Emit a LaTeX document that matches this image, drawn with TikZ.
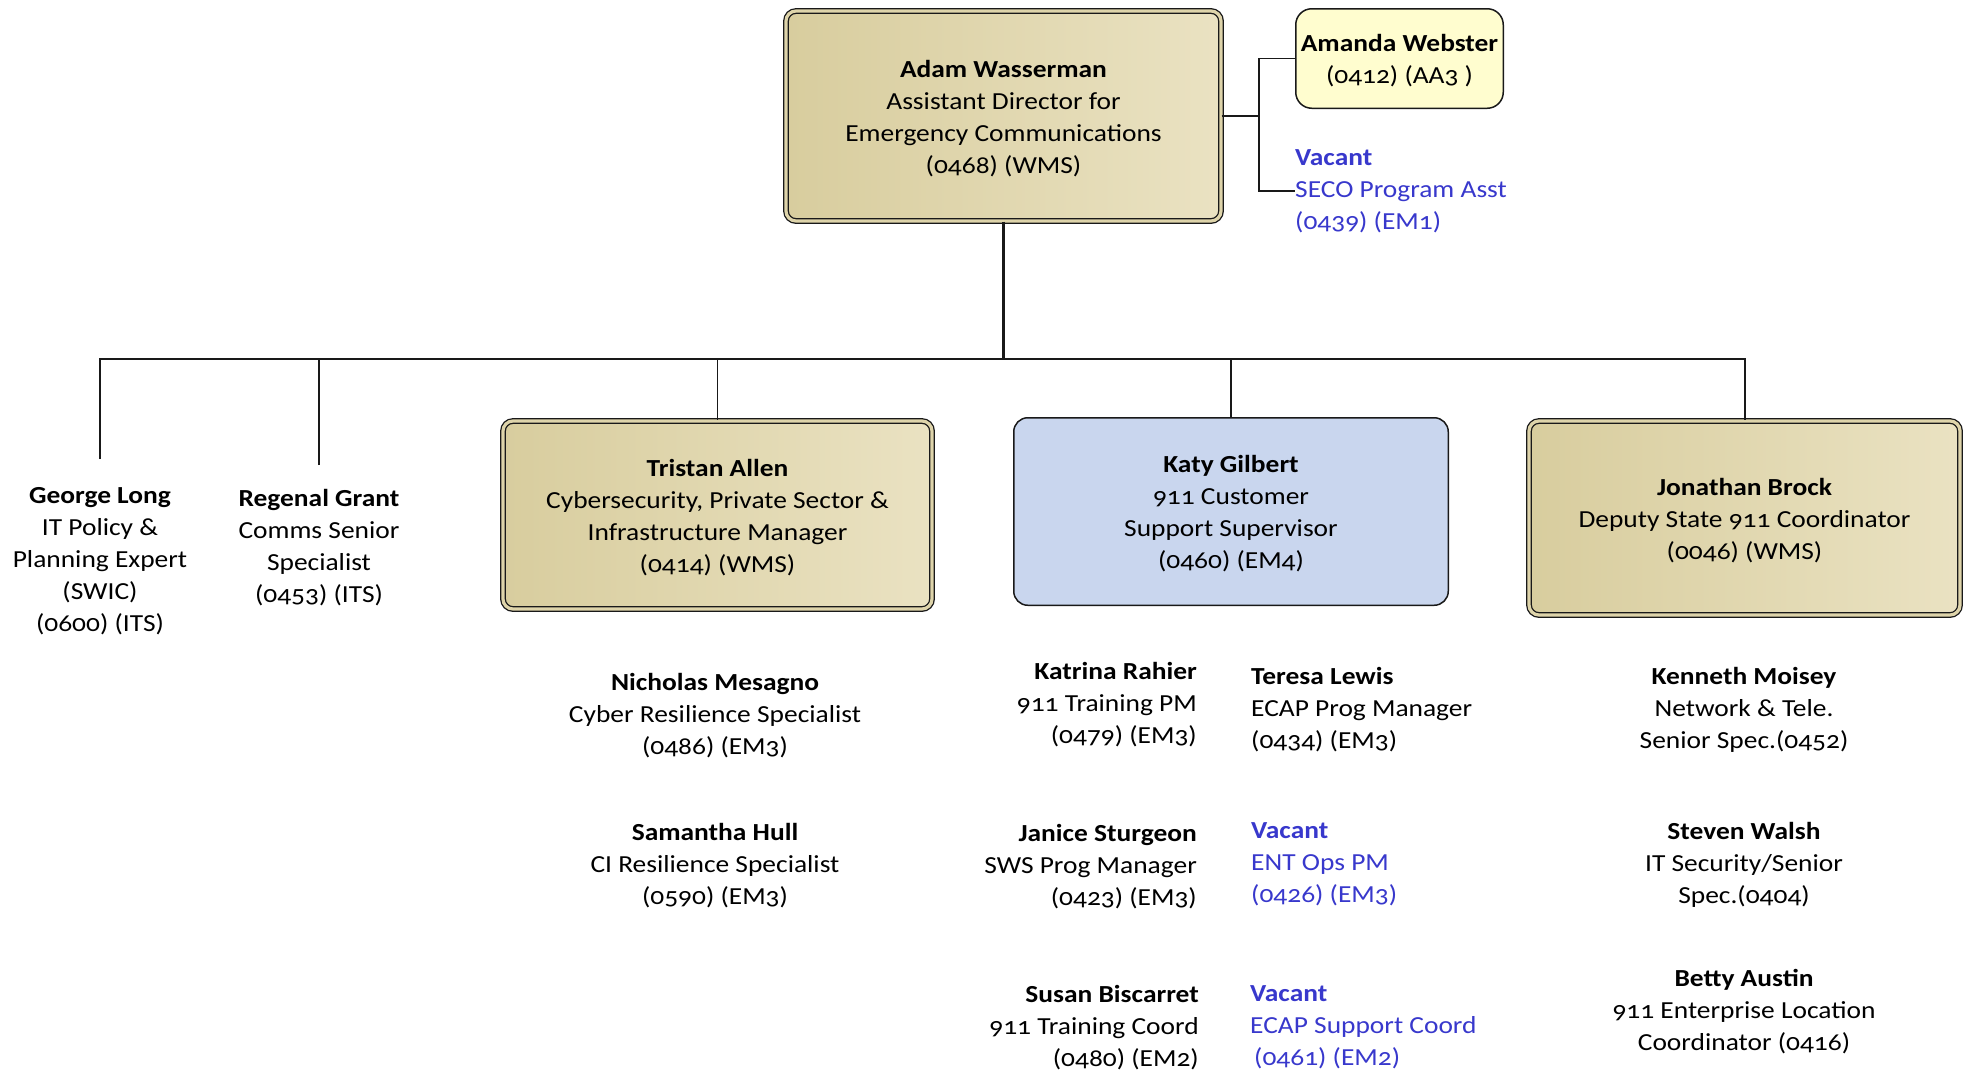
\documentclass[tikz,border=0pt]{standalone}
\usepackage{fontspec}
\setmainfont{Carlito}[Numbers=OldStyle, FakeStretch=1.12]
\newcommand\orgfs{\fontsize{24.5}{32}\selectfont}
\definecolor{lineC}{RGB}{25,25,25}
\definecolor{tanL}{RGB}{216,205,158}
\definecolor{tanR}{RGB}{234,226,194}
\definecolor{tanM}{RGB}{222,212,170}
\definecolor{blueF}{RGB}{201,214,238}
\definecolor{yelF}{RGB}{255,253,207}
\definecolor{vacC}{RGB}{56,56,204}
\begin{document}
\begin{tikzpicture}[x=1pt,y=-1pt,
  every node/.style={inner sep=0pt, font=\orgfs, text=black},
  tanbox/.style={draw=lineC, line width=1.3pt, double=tanM, double distance=3.2pt,
    rounded corners=10pt, left color=tanL, right color=tanR},
  bluebox/.style={draw=lineC, line width=1.5pt, rounded corners=14pt, fill=blueF},
  yelbox/.style={draw=lineC, line width=1.5pt, rounded corners=16pt, fill=yelF},
  boxtext/.style={align=center, yshift=-2.5pt},
  conn/.style={draw=lineC, line width=1.6pt},
  vac/.style={text=vacC, align=left, anchor=west}]
\useasboundingbox (0,0) rectangle (1970,1072);

% boxes
\node[tanbox, minimum width=435, minimum height=210] (adam) at (1003.5,116) {};
\node[boxtext] (adamt) at (adam.center)
  {\textbf{Adam Wasserman}\\Assistant Director for\\Emergency Communications\\(0468) (WMS)};
\node[yelbox, minimum width=207.5, minimum height=99.5] (amanda) at (1399.5,58.5) {};
\node[boxtext] (amandat) at (amanda.center) {\textbf{Amanda Webster}\\(0412) (AA3 )};
\node[vac] (vseco) at (1295,191) {\textbf{Vacant}\\SECO Program Asst\\(0439) (EM1)};

\node[tanbox, minimum width=429, minimum height=188] (tristan) at (717.5,515) {};
\node[boxtext] (tristant) at (tristan.center)
  {\textbf{Tristan Allen}\\Cybersecurity, Private Sector \&\\Infrastructure Manager\\(0414) (WMS)};
\node[bluebox, minimum width=434.5, minimum height=187.5] (katy) at (1231,511.5) {};
\node[boxtext] (katyt) at (katy.center)
  {\textbf{Katy Gilbert}\\911 Customer\\Support Supervisor\\(0460) (EM4)};
\node[tanbox, minimum width=431, minimum height=194] (jonathan) at (1744.5,518) {};
\node[boxtext] (jonathant) at (jonathan.center)
  {\textbf{Jonathan Brock}\\Deputy State 911 Coordinator\\(0046) (WMS)};

% plain staff
\node[align=center] (george) at (100,561.5)
  {\textbf{George Long}\\IT Policy \&\\Planning Expert\\(SWIC)\\(0600) (ITS)};
\node[align=center] (regenal) at (319,547.5)
  {\textbf{Regenal Grant}\\Comms Senior\\Specialist\\(0453) (ITS)};

\node[align=center] (nicholas) at (715,715.5)
  {\textbf{Nicholas Mesagno}\\Cyber Resilience Specialist\\(0486) (EM3)};
\node[align=center] (samantha) at (715,865.5)
  {\textbf{Samantha Hull}\\CI Resilience Specialist\\(0590) (EM3)};

\node[align=right, anchor=east] (katrina) at (1197,704.5)
  {\textbf{Katrina Rahier}\\911 Training PM\\(0479) (EM3)};
\node[align=right, anchor=east] (janice) at (1197,866.5)
  {\textbf{Janice Sturgeon}\\SWS Prog Manager\\(0423) (EM3)};
\node[align=right, anchor=east] (susan) at (1199,1027.5)
  {\textbf{Susan Biscarret}\\911 Training Coord\\(0480) (EM2)};

\node[align=left, anchor=west] (teresa) at (1251,709.5)
  {\textbf{Teresa Lewis}\\ECAP Prog Manager\\(0434) (EM3)};
\node[vac] (vent) at (1251,864.5)
  {\textbf{Vacant}\\ENT Ops PM\\(0426) (EM3)};
\node[vac] (vecap) at (1250,1027.5)
  {\textbf{Vacant}\\ECAP Support Coord\\\hspace*{4pt}(0461) (EM2)};

\node[align=center] (kenneth) at (1744,709.5)
  {\textbf{Kenneth Moisey}\\Network \& Tele.\\Senior Spec.(0452)};
\node[align=center] (steven) at (1744,864.5)
  {\textbf{Steven Walsh}\\IT Security/Senior\\Spec.(0404)};
\node[align=center] (betty) at (1744,1011.5)
  {\textbf{Betty Austin}\\911 Enterprise Location\\Coordinator (0416)};

% connectors
\coordinate (bus) at (0,359);
\coordinate (jn) at (1259,116);
\coordinate (gtop) at (100,459);
\coordinate (rtop) at (319,465);

\draw[conn, line width=2.7pt] (adam.south) -- (adam.south |- bus);
\draw[conn, line width=2pt] (gtop) -- (gtop |- bus) -- (bus -| jonathan.north) -- (jonathan.north);
\draw[conn] (rtop) -- (rtop |- bus);
\draw[conn] (tristan.north |- bus) -- (tristan.north);
\draw[conn] (katy.north |- bus) -- (katy.north);

\draw[conn] (adam.east) -- (jn);
\draw[conn] (amanda.west) -- (amanda.west -| jn) -- (jn |- vseco.west) -- (vseco.west);
\end{tikzpicture}
\end{document}
